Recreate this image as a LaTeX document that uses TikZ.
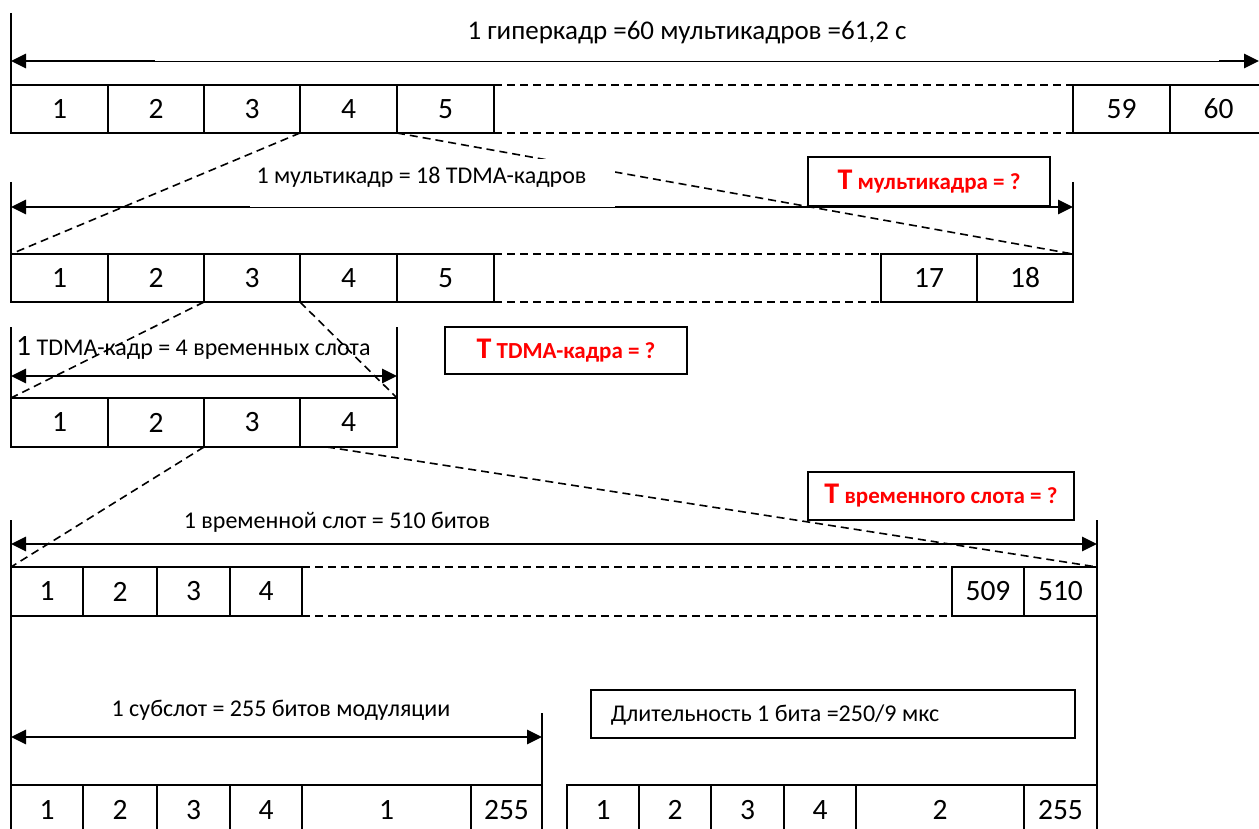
\documentclass[tikz,border=0pt]{standalone}
\usepackage{fontspec}
\setmainfont{Carlito}
\usetikzlibrary{arrows.meta}
\newcommand\dnumfont{\fontsize{29.5}{34}\selectfont}
\newcommand\dlblfont{\fontsize{24}{29}\selectfont}
\newcommand\dbigT{{\fontsize{30}{34}\selectfont Т}}
\newcommand\mycell[6]{\node[cell, minimum width={(#3-#2)*1pt}, minimum height={#5*1pt}] (#1) at (#2,#4) {#6};}
\begin{document}
\begin{tikzpicture}[x=1pt,y=-1pt,
  cell/.style={draw, line width=1.5pt, inner sep=0pt, outer sep=0pt, anchor=north west, font=\dnumfont},
  frameline/.style={line width=1.5pt},
  dashline/.style={line width=1.6pt, dash pattern=on 8pt off 5pt},
  dimarrow/.style={line width=2.8pt, {Triangle[length=15pt,width=14pt]}-{Triangle[length=15pt,width=14pt]}},
  lbl/.style={inner sep=0pt, anchor=base, font=\dlblfont},
  whitelbl/.style={fill=white, inner sep=0pt, anchor=south},
  qbox/.style={draw, line width=1.5pt, fill=white, inner sep=0pt, text=red, font=\bfseries\fontsize{23}{27}\selectfont},
]
\clip (0,0) rectangle (1259,829);
\fill[white] (0,0) rectangle (1259,829);

% ---------- coordinates ----------
\coordinate (hvt) at (11,13);
\coordinate (hL) at (11,61);
\coordinate (hR) at (1259,61);
\coordinate (mvl) at (11,182);
\coordinate (mvr) at (1073,182);
\coordinate (mL) at (11,207);
\coordinate (mR) at (1073,207);
\coordinate (tvl) at (11,327);
\coordinate (tvr) at (397,327);
\coordinate (tL) at (11,376);
\coordinate (tR) at (397,376);
\coordinate (svl) at (11,520);
\coordinate (svr) at (1097,520);
\coordinate (svlb) at (11,835);
\coordinate (svrb) at (1097,835);
\coordinate (sL) at (11,544);
\coordinate (sR) at (1097,544);
\coordinate (t4b) at (327,447);
\coordinate (bvt) at (542,713);
\coordinate (bL) at (11,737);
\coordinate (bR) at (542,737);

% ---------- cells ----------
\mycell{h1}{11}{108}{85}{48}{1}
\mycell{h2}{108}{204}{85}{48}{2}
\mycell{h3}{204}{300}{85}{48}{3}
\mycell{h4}{300}{397}{85}{48}{4}
\mycell{h5}{397}{494}{85}{48}{5}
\mycell{h59}{1073}{1170}{85}{48}{59}
\mycell{h60}{1170}{1267}{85}{48}{60}

\mycell{m1}{11}{108}{254}{48}{1}
\mycell{m2}{108}{204}{254}{48}{2}
\mycell{m3}{204}{300}{254}{48}{3}
\mycell{m4}{300}{397}{254}{48}{4}
\mycell{m5}{397}{494}{254}{48}{5}
\mycell{m17}{881}{977}{254}{48}{17}
\mycell{m18}{977}{1073}{254}{48}{18}

\mycell{t1}{11}{108}{398}{49}{1}
\mycell{t2}{108}{204}{398}{49}{2}
\mycell{t3}{204}{300}{398}{49}{3}
\mycell{t4}{300}{397}{398}{49}{4}

\mycell{s1}{11}{83}{567}{49}{1}
\mycell{s2}{83}{157}{567}{49}{2}
\mycell{s3}{157}{230}{567}{49}{3}
\mycell{s4}{230}{302}{567}{49}{4}
\mycell{s509}{952}{1024}{567}{49}{509}
\mycell{s510}{1024}{1097}{567}{49}{510}

\mycell{b1}{11}{83}{785}{50}{1}
\mycell{b2}{83}{157}{785}{50}{2}
\mycell{b3}{157}{230}{785}{50}{3}
\mycell{b4}{230}{302}{785}{50}{4}
\mycell{b5}{302}{471}{785}{50}{1}
\mycell{b6}{471}{542}{785}{50}{255}
\mycell{c1}{567}{639}{785}{50}{1}
\mycell{c2}{639}{711}{785}{50}{2}
\mycell{c3}{711}{784}{785}{50}{3}
\mycell{c4}{784}{856}{785}{50}{4}
\mycell{c5}{856}{1024}{785}{50}{2}
\mycell{c6}{1024}{1097}{785}{50}{255}

% ---------- dimension arrows ----------
\draw[dimarrow] (hL) -- (hR);
\draw[dimarrow] (mL) -- (mR);
\draw[dimarrow] (tL) -- (tR);
\draw[dimarrow] (sL) -- (sR);
\draw[dimarrow] (bL) -- (bR);

% ---------- extension lines ----------
\draw[frameline] (hvt) -- (h1.north west);
\draw[frameline] (mvl) -- (m1.north west);
\draw[frameline] (mvr) -- (m18.north east);
\draw[frameline] (tvl) -- (t1.north west);
\draw[frameline] (tvr) -- (t4.north east);
\draw[frameline] (svl) -- (svlb);
\draw[frameline] (svr) -- (svrb);
\draw[frameline] (bvt) -- (b6.north east);

% ---------- dashed continuation of rows ----------
\draw[dashline] (h5.north east) -- (h59.north west);
\draw[dashline] (h5.south east) -- (h59.south west);
\draw[dashline] (m5.north east) -- (m17.north west);
\draw[dashline] (m5.south east) -- (m17.south west);
\draw[dashline] (s4.north east) -- (s509.north west);
\draw[dashline] (s4.south east) -- (s509.south west);

% ---------- zoom (dashed) connectors ----------
\draw[dashline] (h4.south west) -- (m1.north west);
\draw[dashline] (h4.south east) -- (m18.north east);
\draw[dashline] (m3.south west) -- (t1.north west);
\draw[dashline] (m3.south east) -- (t4.north east);
\draw[dashline] (t3.south west) -- (s1.north west);
\draw[dashline] (t4b) -- (s510.north east);

% ---------- labels ----------
\node[whitelbl, minimum width=1064pt, text height=30pt, text depth=21pt, font=\fontsize{27}{32}\selectfont] (title) at (687,61)
  {1 гиперкадр =60 мультикадров =61,2 с};
\node[whitelbl, minimum width=365pt, text height=25pt, text depth=23pt, font=\dlblfont] (mlbl) at (432,207)
  {\makebox[365pt][l]{\hspace*{7pt}1 мультикадр = 18 TDMA-кадров}};
\node[lbl, anchor=base west] (tlbl) at (16,355) {{\dnumfont 1} TDMA-кадр = 4 временных слота};
\node[lbl] (slbl) at (337,528) {1 временной слот = 510 битов};
\node[lbl] (blbl) at (281,716) {1 субслот = 255 битов модуляции};

\node[qbox, minimum width=242pt, minimum height=49pt] (qm) at (929,181.5) {\dbigT{} мультикадра = ?};
\node[qbox, minimum width=242pt, minimum height=47pt] (qt) at (566,350.5) {\dbigT{} TDMA-кадра = ?};
\node[qbox, minimum width=266pt, minimum height=48pt] (qs) at (941,496) {\dbigT{} временного слота = ?};

\node[draw, line width=1.5pt, anchor=north west, minimum width=484pt, minimum height=48pt, inner xsep=0pt, inner ysep=0pt,
  text height=16pt, text depth=0pt, font=\fontsize{24}{28}\selectfont] (dur) at (590,689)
  {\makebox[484pt][l]{\hspace*{20pt}Длительность 1 бита =250/9 мкс}};
\end{tikzpicture}
\end{document}
